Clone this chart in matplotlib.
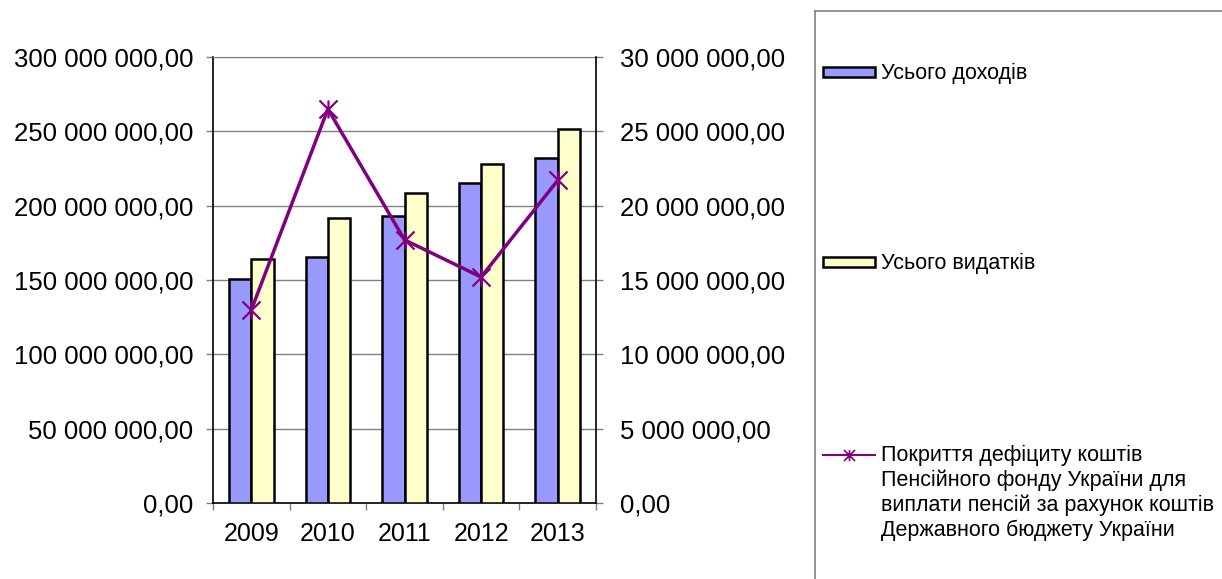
import numpy as np
import matplotlib
matplotlib.use("Agg")
import matplotlib.pyplot as plt
from matplotlib.path import Path
from matplotlib.patches import Rectangle
from matplotlib.lines import Line2D
from matplotlib.ticker import FuncFormatter, MultipleLocator

plt.rcParams['font.family'] = ['Liberation Sans', 'DejaVu Sans']

years = ["2009", "2010", "2011", "2012", "2013"]
income = [150.7e6, 165.2e6, 193.2e6, 215.0e6, 232.0e6]
expenses = [163.9e6, 191.9e6, 208.7e6, 228.0e6, 251.7e6]
deficit_cover = [12.98e6, 26.5e6, 17.7e6, 15.2e6, 21.7e6]

lbl_income = "Усього доходів"
lbl_expenses = "Усього видатків"
lbl_deficit = ("Покриття дефіциту коштів\nПенсійного фонду України для\n"
               "виплати пенсій за рахунок коштів\nДержавного бюджету України")

W, H = 1222, 579
fig = plt.figure(figsize=(W / 100, H / 100), dpi=100)

# asterisk marker: X with a vertical stroke
star = Path([(-1, -1), (1, 1), (-1, 1), (1, -1), (0, -1), (0, 1)],
            [Path.MOVETO, Path.LINETO, Path.MOVETO, Path.LINETO, Path.MOVETO, Path.LINETO])


def fmt(v, pos):
    return f"{v:,.2f}".replace(",", " ").replace(".", ",")


ax = fig.add_axes([213 / W, 1 - 503 / H, (596 - 213) / W, (503 - 57) / H])
x = np.arange(len(years))
bw = 0.29
ax.bar(x - bw, income, bw, align='edge', color='#9999FF', edgecolor='black', linewidth=1.8, zorder=3)
ax.bar(x, expenses, bw, align='edge', color='#FFFFCC', edgecolor='black', linewidth=1.8, zorder=3)
ax.set_xlim(-0.5, len(years) - 0.5)
ax.set_ylim(0, 300e6)
ax.yaxis.set_major_locator(MultipleLocator(50e6))
ax.yaxis.set_major_formatter(FuncFormatter(fmt))
ax.grid(axis='y', color='#808080', linewidth=1.0, zorder=0)
ax.set_xticks(x)
ax.set_xticklabels(years)
ax.set_xticks(np.arange(-0.5, len(years)), minor=True)
ax.tick_params(axis='x', which='major', length=0, pad=14, labelsize=18)
ax.tick_params(axis='x', which='minor', length=5, width=1, color='#808080')
ax.tick_params(axis='y', length=5, width=1, pad=9, labelsize=18.5, color='#808080')
ax.spines['top'].set_color('#808080')
ax.spines['right'].set_visible(False)
for s in ['left', 'bottom']:
    ax.spines[s].set_color('black')
    ax.spines[s].set_linewidth(1.2)

ax2 = ax.twinx()
ax2.plot(x, deficit_cover, color='#800080', linewidth=2.5, marker=star,
         markersize=13, markeredgewidth=1.6, zorder=5)
ax2.set_ylim(0, 30e6)
ax2.yaxis.set_major_locator(MultipleLocator(5e6))
ax2.yaxis.set_major_formatter(FuncFormatter(fmt))
ax2.tick_params(axis='y', length=5, width=1, pad=12, labelsize=18.5, color='#808080')
ax2.spines['right'].set_color('black')
ax2.spines['right'].set_linewidth(1.2)
for s in ['top', 'left', 'bottom']:
    ax2.spines[s].set_visible(False)

# legend panel, drawn in pixel-like coordinates
lax = fig.add_axes([815 / W, 0, (W - 815) / W, (H - 11) / H])
lax.set_xlim(0, W - 815)
lax.set_ylim(H - 11, 0)
lax.set_xticks([])
lax.set_yticks([])
for s in ['right', 'bottom']:
    lax.spines[s].set_visible(False)
for s in ['left', 'top']:
    lax.spines[s].set_color('#808080')
    lax.spines[s].set_linewidth(1.2)

lax.add_patch(Rectangle((8, 56), 52, 10, facecolor='#9999FF', edgecolor='black', linewidth=1.8))
lax.text(66, 62, lbl_income, fontsize=15.5, va='center', ha='left')
lax.add_patch(Rectangle((8, 246), 52, 10, facecolor='#FFFFCC', edgecolor='black', linewidth=1.8))
lax.text(66, 252, lbl_expenses, fontsize=15.5, va='center', ha='left')
lax.add_line(Line2D([8, 60], [444, 444], color='#800080', linewidth=1.5))
lax.add_line(Line2D([34], [444], color='#800080', marker=star, markersize=8, markeredgewidth=1.2))
lax.text(66, 434, lbl_deficit, fontsize=15.5, va='top', ha='left', linespacing=1.22)

fig.savefig("out.png", dpi=100)
